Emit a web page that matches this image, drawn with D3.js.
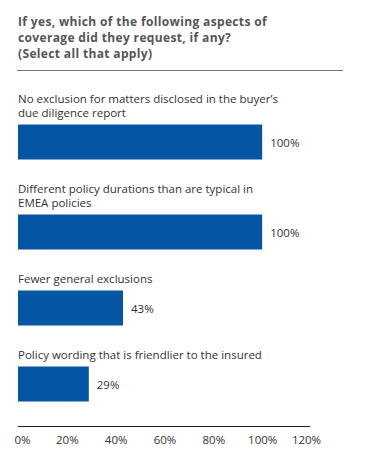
<!DOCTYPE html>
<html>
<head>
<meta charset="utf-8">
<script src="https://cdn.jsdelivr.net/npm/d3@7"></script>
<style>
  body { margin: 0; background: #fff; }
  svg text { font-family: 'Open Sans', sans-serif; }
</style>
</head>
<body>
<svg class="chart"></svg>
<script>
// chart data
const titleLines = [
  'If yes, which of the following aspects of',
  'coverage did they request, if any?',
  '(Select all that apply)'
];
const categories = [
  ['No exclusion for matters disclosed in the buyer\u2019s', 'due diligence report'],
  ['Different policy durations than are typical in', 'EMEA policies'],
  ['Fewer general exclusions'],
  ['Policy wording that is friendlier to the insured']
];
const values = [100, 100, 43, 29];
const tickValues = [0, 20, 40, 60, 80, 100, 120];

let width = 365;
let height = 466;
let lineH = 14;
let barH = 35;

let svg = d3.select('.chart').attr('width', width).attr('height', height);

// title, one text block with a tspan per line
svg
  .append('text')
  .attr('fill', '#555')
  .style('font-weight', 'bold')
  .style('font-size', '12px')
  .style('letter-spacing', '0.35px')
  .selectAll('tspan')
  .data(titleLines)
  .enter()
  .append('tspan')
  .attr('x', 18)
  .attr('y', (d, i) => 25.5 + i * 16)
  .text((d) => d);

svg
  .append('line')
  .attr('x1', 17)
  .attr('x2', 343)
  .attr('y1', 70.5)
  .attr('y2', 70.5)
  .attr('stroke', '#777')
  .attr('stroke-width', 1);

// x scale
let x = d3.scaleLinear().domain([0, 120]).range([18, 311]);

// work out vertical layout from number of label lines
let groups = [];
let y0 = 103;
categories.forEach((lines, i) => {
  let barTop = y0 + (lines.length - 1) * lineH + 7.5;
  groups.push({ lines: lines, value: values[i], y: y0, barTop: barTop });
  y0 = barTop + barH + 33.5;
});

let g = svg.selectAll('.group').data(groups).enter().append('g').classed('group', true);

g.append('text')
  .classed('label', true)
  .attr('fill', '#333')
  .style('font-size', '11.5px')
  .selectAll('tspan')
  .data((d) => d.lines.map((l, i) => ({ text: l, y: d.y + i * lineH })))
  .enter()
  .append('tspan')
  .attr('x', 18)
  .attr('y', (d) => d.y)
  .text((d) => d.text);

g.append('rect')
  .attr('x', x(0))
  .attr('y', (d) => d.barTop)
  .attr('width', (d) => x(d.value) - x(0))
  .attr('height', barH)
  .attr('fill', '#0456a5');

g.append('text')
  .attr('x', (d) => x(d.value) + 8)
  .attr('y', (d) => d.barTop + barH / 2 + 4.5)
  .attr('fill', '#333')
  .style('font-size', '11.5px')
  .text((d) => d.value + '%');

// x axis
let axis = svg
  .append('g')
  .attr('transform', 'translate(0,426)')
  .call(
    d3
      .axisBottom(x)
      .tickValues(tickValues)
      .tickSize(0)
      .tickPadding(10)
      .tickFormat((d) => d + '%')
  );
axis.select('.domain').attr('stroke', '#222').attr('d', `M${x(0)},0.5H${x(120) - 1}`);
axis
  .selectAll('.tick text')
  .attr('fill', '#333')
  .style('font-family', "'Open Sans', sans-serif")
  .style('font-size', '11.5px')
  // edge labels sit a little inside the axis ends
  .attr('dx', (d) => (d === 0 ? 4 : d === 120 ? -5 : 0));
</script>
</body>
</html>
